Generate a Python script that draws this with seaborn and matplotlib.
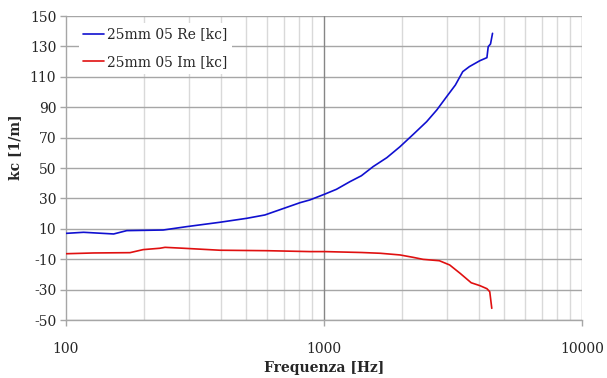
import numpy as np
import pandas as pd
import matplotlib
matplotlib.use("Agg")
import matplotlib.pyplot as plt
import seaborn as sns
from matplotlib.ticker import FixedLocator, NullFormatter

# Measured wavenumber kc for the 25 mm sample (real and imaginary parts)
freq_re = [100, 117, 153, 172, 238, 293, 395, 502, 590, 808, 882, 1010, 1118, 1260,
           1396, 1550, 1752, 1970, 2220, 2500, 2737, 2990, 3230, 3450, 3660, 4020,
           4280, 4330, 4420, 4500]
kc_re = [7.0, 7.7, 6.6, 8.8, 9.2, 11.4, 14.3, 16.9, 19.1, 27.2, 29.0, 32.9, 36.0, 41.0,
         44.9, 50.9, 56.8, 64.0, 72.2, 80.5, 88.2, 97.0, 104.6, 113.4, 116.7, 120.6,
         122.6, 129.8, 131.6, 138.6]

freq_im = [100, 128, 177, 199, 231, 242, 285, 395, 600, 884, 1010, 1400, 1653, 1970,
           2220, 2420, 2800, 3070, 3370, 3720, 4020, 4280, 4390, 4470]
kc_im = [-6.4, -5.9, -5.7, -3.7, -2.8, -2.2, -2.8, -4.1, -4.4, -5.0, -5.0, -5.6, -6.1,
         -7.2, -8.8, -10.1, -11.0, -13.8, -19.3, -25.5, -27.4, -29.4, -31.4, -42.3]

series_names = ["25mm 05 Re [kc]", "25mm 05 Im [kc]"]
y_ticks = list(range(-50, 151, 20))
x_major = [100, 1000, 10000]
x_minor = [m * d for d in (100, 1000) for m in range(2, 10)]

df = pd.concat([
    pd.DataFrame({"f": freq_re, "kc": kc_re, "serie": series_names[0]}),
    pd.DataFrame({"f": freq_im, "kc": kc_im, "serie": series_names[1]}),
])

sns.set_style("white")
plt.rcParams["font.family"] = ["DejaVu Serif"]
plt.rcParams["axes.unicode_minus"] = False

fig = plt.figure(figsize=(6.07, 3.78), dpi=100)
ax = fig.add_axes([66 / 607, 1 - 320 / 378, 516 / 607, 304 / 378])

sns.lineplot(data=df, x="f", y="kc", hue="serie", sort=False,
             palette={series_names[0]: "#1010d0", series_names[1]: "#e01010"},
             linewidth=1.2, ax=ax, legend=True, zorder=3)

ax.set_xscale("log")
ax.set_xlim(100, 10000)
ax.set_ylim(-50, 150)

ax.xaxis.set_major_locator(FixedLocator(x_major))
ax.xaxis.set_minor_locator(FixedLocator(x_minor))
ax.xaxis.set_minor_formatter(NullFormatter())
ax.set_xticklabels([str(v) for v in x_major])
ax.set_yticks(y_ticks)
ax.set_yticklabels([str(v) for v in y_ticks])

# grid: horizontal lines mid grey, vertical decades darker, minor ones light
ax.grid(False)
for y in y_ticks:
    ax.axhline(y, color="#a6a6a6", lw=1.0, zorder=1)
for x in x_minor:
    ax.axvline(x, color="#d9d9d9", lw=1.0, zorder=0.5)
ax.axvline(1000, color="#868686", lw=1.0, zorder=1)
ax.axvline(10000, color="#a6a6a6", lw=1.0, zorder=1)

for side in ("top", "right"):
    ax.spines[side].set_visible(False)
for side in ("left", "bottom"):
    ax.spines[side].set_color("#a6a6a6")
    ax.spines[side].set_linewidth(1.0)

ax.tick_params(axis="y", which="major", direction="out", length=4, width=1,
               color="#a6a6a6", labelsize=10, pad=3, left=True)
ax.tick_params(axis="x", which="major", direction="out", length=4, width=1,
               color="#a6a6a6", labelsize=10, pad=12, bottom=True)
ax.tick_params(axis="x", which="minor", length=0)

ax.set_xlabel("Frequenza [Hz]", fontsize=10, fontweight="bold")
ax.set_ylabel("kc [1/m]", fontsize=10, fontweight="bold")
ax.xaxis.set_label_coords(0.5, -0.135)
ax.yaxis.set_label_coords(-0.085, 0.57)

leg = ax.legend(loc="upper left", bbox_to_anchor=(0.019, 0.987), frameon=True,
                fancybox=False, framealpha=1, edgecolor="white", fontsize=10,
                handlelength=1.45, handletextpad=0.25, borderpad=0.35,
                labelspacing=0.95, borderaxespad=0.2)
leg.get_frame().set_linewidth(0)
leg.set_zorder(5)

fig.savefig("out.png", dpi=100)
